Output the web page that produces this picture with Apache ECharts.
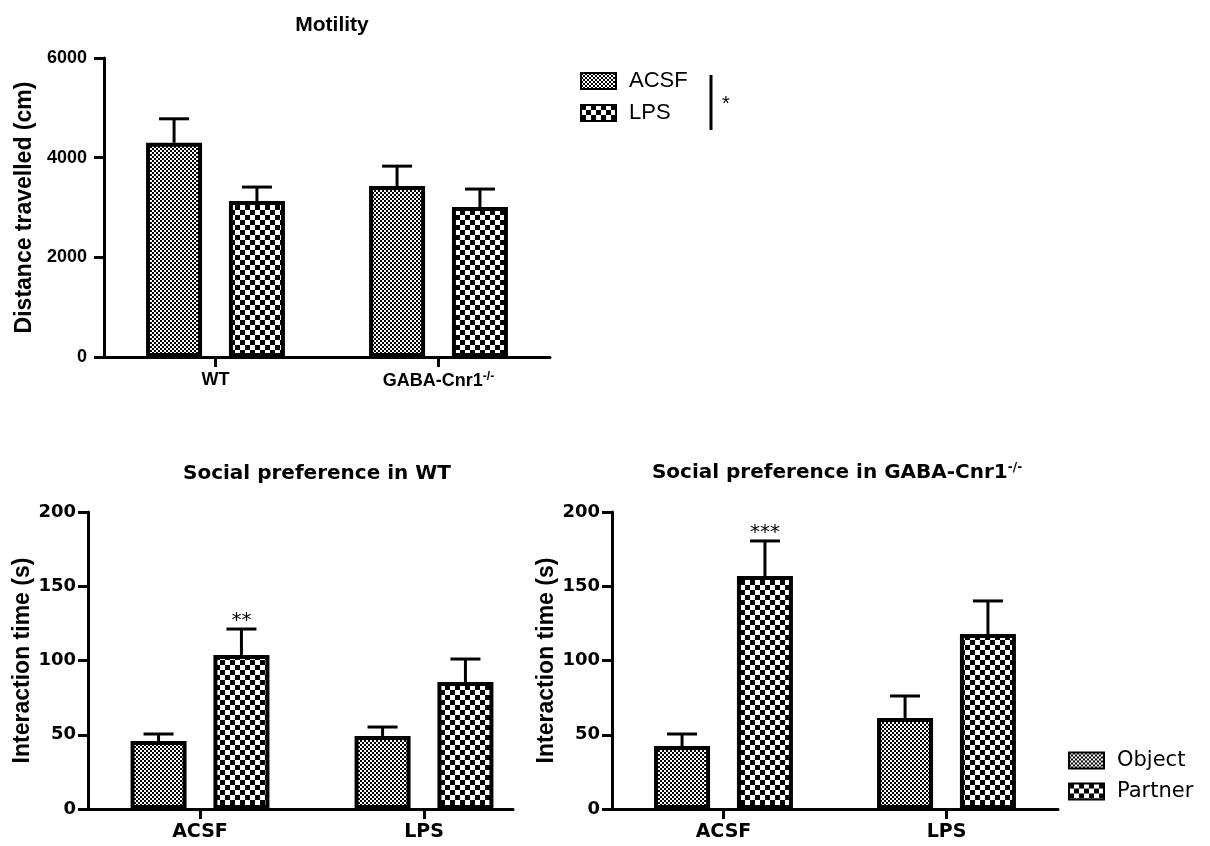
<!DOCTYPE html>
<html>
<head>
<meta charset="utf-8">
<script src="https://cdn.jsdelivr.net/npm/echarts@6/dist/echarts.min.js"></script>
<style>
html,body{margin:0;padding:0;background:#fff;}
#chart{width:1210px;height:846px;}
</style>
</head>
<body>
<div id="chart"></div>
<script>
// ---------- DATA ----------
const motilityCategories = ['WT', 'GABA-Cnr1'];
const motilityAcsfMean = [4300, 3430];
const motilityAcsfSem  = [480, 400];
const motilityLpsMean  = [3130, 3010];
const motilityLpsSem   = [280, 360];

const socialCategories = ['ACSF', 'LPS'];
const wtObjectMean   = [45.8, 49.2];
const wtObjectSem    = [4.7, 6.0];
const wtPartnerMean  = [103.7, 85.5];
const wtPartnerSem   = [17.5, 15.5];
const wtPartnerSig   = ['**', ''];

const koObjectMean   = [42.4, 61.3];
const koObjectSem    = [8.1, 14.8];
const koPartnerMean  = [156.9, 117.8];
const koPartnerSem   = [23.6, 22.3];
const koPartnerSig   = ['***', ''];

const motilityTicks = [0, 2000, 4000, 6000];
const socialTicks = [0, 50, 100, 150, 200];

// ---------- STYLE HELPERS ----------
function checker(cell) {
  const c = document.createElement('canvas');
  c.width = c.height = cell * 2;
  const g = c.getContext('2d');
  g.fillStyle = '#fff'; g.fillRect(0, 0, cell * 2, cell * 2);
  g.fillStyle = '#000';
  g.fillRect(0, 0, cell, cell);
  g.fillRect(cell, cell, cell, cell);
  return { image: c, repeat: 'repeat' };
}
const finePat = checker(2);
const coarsePat = checker(5);

const ARIAL = '"Liberation Sans", Arial, sans-serif';
const DEJA = '"DejaVu Sans", sans-serif';
const BAR_W = 56, GAP_RATIO = 0.48, BORDER = 4;
const BAR_GAP = (GAP_RATIO * 100) + '%';
const OFFSET = (BAR_W + BAR_W * GAP_RATIO) / 2;
const CAP = 15;

function errRender(offset, stars, starFont) {
  return function (params, api) {
    const i = api.value(0), v = api.value(1), s = api.value(2);
    const p0 = api.coord([i, v]);
    const p1 = api.coord([i, v + s]);
    const x = p0[0] + offset;
    const children = [
      { type: 'line', shape: { x1: x, y1: p0[1], x2: x, y2: p1[1] }, style: { stroke: '#000', lineWidth: 3 } },
      { type: 'line', shape: { x1: x - CAP, y1: p1[1], x2: x + CAP, y2: p1[1] }, style: { stroke: '#000', lineWidth: 3 } }
    ];
    if (stars && stars[i]) {
      children.push({ type: 'text', style: { text: stars[i], x: x, y: p1[1] + 2, align: 'center', verticalAlign: 'bottom', font: starFont, fill: '#000' } });
    }
    return { type: 'group', children: children };
  };
}
function errData(sem, mean) {
  return mean.map((m, i) => [i, m, sem[i]]);
}

function yAxisCfg(grid, ticks, name, gap, labelFont, margin) {
  return {
    type: 'value', gridIndex: grid, min: ticks[0], max: ticks[ticks.length - 1], interval: ticks[1] - ticks[0],
    name: name, nameLocation: 'middle', nameRotate: 90, nameGap: gap,
    nameTextStyle: { fontFamily: ARIAL, fontWeight: 'bold', fontSize: 23, color: '#000' },
    axisLine: { show: true, lineStyle: { color: '#000', width: 3 } },
    axisTick: { show: true, length: 10, lineStyle: { color: '#000', width: 3 } },
    axisLabel: { color: '#000', fontFamily: labelFont, fontWeight: 'bold', fontSize: 18, margin: margin,
      formatter: function (v) { return String(v); } },
    splitLine: { show: false }
  };
}
function xCatCfg(grid, cats, labelFont, size, showLine, rich) {
  return {
    type: 'category', gridIndex: grid, data: cats,
    axisLine: { show: showLine, lineStyle: { color: '#000', width: 3 } },
    axisTick: { show: true, alignWithLabel: true, length: 10, lineStyle: { color: '#000', width: 3 } },
    axisLabel: {
      interval: 0,
      color: '#000', fontFamily: labelFont, fontWeight: 'bold', fontSize: size, margin: 14,
      formatter: function (v) { return v === 'GABA-Cnr1' ? '{a|GABA-Cnr1}{s|-/-}' : v; },
      rich: rich
    },
    splitLine: { show: false }
  };
}
const topRich = {
  a: { fontFamily: ARIAL, fontWeight: 'bold', fontSize: 18, color: '#000' },
  s: { fontFamily: ARIAL, fontWeight: 'bold', fontSize: 12, color: '#000', verticalAlign: 'top', padding: [0, 0, 8, 0] }
};

function barSeries(name, data, pat, xi, yi) {
  return {
    type: 'bar', name: name, data: data, xAxisIndex: xi, yAxisIndex: yi,
    barWidth: BAR_W, barGap: BAR_GAP,
    itemStyle: { color: pat, borderColor: '#000', borderWidth: BORDER },
    emphasis: { disabled: true }, z: 2
  };
}
function errSeries(mean, sem, offset, xi, yi, stars, starFont) {
  return {
    type: 'custom', data: errData(sem, mean), xAxisIndex: xi, yAxisIndex: yi,
    renderItem: errRender(offset, stars, starFont), z: 3, silent: true
  };
}

const chart = echarts.init(document.getElementById('chart'), null, { renderer: 'canvas' });
chart.setOption({
  animation: false,
  backgroundColor: '#fff',
  title: [
    { text: 'Motility', left: 327, top: 10, textAlign: 'center',
      textStyle: { fontFamily: ARIAL, fontWeight: 'bold', fontSize: 21, color: '#000' } },
    { text: 'Social preference in WT', left: 312, top: 459, textAlign: 'center',
      textStyle: { fontFamily: DEJA, fontWeight: 'bold', fontSize: 20, color: '#000' } },
    { text: '{a|Social preference in GABA-Cnr1}{s|-/-}', left: 832, top: 457, textAlign: 'center',
      textStyle: { rich: {
        a: { fontFamily: DEJA, fontWeight: 'bold', fontSize: 20, color: '#000' },
        s: { fontFamily: DEJA, fontWeight: 'bold', fontSize: 12, color: '#000', verticalAlign: 'top', padding: [0, 0, 10, 0] }
      } } }
  ],
  legend: [
    { data: [{ name: 'ACSF', icon: 'rect' }, { name: 'LPS', icon: 'rect' }], orient: 'vertical', left: 580, top: 70,
      itemWidth: 35, itemHeight: 16, itemGap: 10, padding: 0, selectedMode: false,
      textStyle: { fontFamily: ARIAL, fontSize: 22, color: '#000', padding: [0, 0, 0, 8] } },
    { data: [{ name: 'Object', icon: 'rect' }, { name: 'Partner', icon: 'rect' }], orient: 'vertical', left: 1068, top: 750,
      itemWidth: 35, itemHeight: 16, itemGap: 10, padding: 0, selectedMode: false,
      textStyle: { fontFamily: DEJA, fontSize: 21, color: '#000', padding: [0, 0, 0, 8] } }
  ],
  grid: [
    { left: 104, top: 58, width: 446, height: 299 },
    { left: 88, top: 512, width: 448, height: 297 },
    { left: 88, top: 512, width: 425, height: 297 },
    { left: 612, top: 512, width: 446, height: 297 }
  ],
  xAxis: [
    xCatCfg(0, motilityCategories, ARIAL, 18, true, topRich),
    xCatCfg(1, socialCategories, DEJA, 19, false, {}),
    { type: 'value', gridIndex: 2, min: 0, max: 1, axisLine: { show: true, lineStyle: { color: '#000', width: 3 } },
      axisTick: { show: false }, axisLabel: { show: false }, splitLine: { show: false } },
    xCatCfg(3, socialCategories, DEJA, 19, true, {})
  ],
  yAxis: [
    yAxisCfg(0, motilityTicks, 'Distance travelled (cm)', 68, ARIAL, 17),
    yAxisCfg(1, socialTicks, 'Interaction time (s)', 53, DEJA, 12),
    { type: 'value', gridIndex: 2, show: false, min: 0, max: 1 },
    yAxisCfg(3, socialTicks, 'Interaction time (s)', 46, DEJA, 12)
  ],
  series: [
    barSeries('ACSF', motilityAcsfMean, finePat, 0, 0),
    barSeries('LPS', motilityLpsMean, coarsePat, 0, 0),
    errSeries(motilityAcsfMean, motilityAcsfSem, -OFFSET, 0, 0, null, ''),
    errSeries(motilityLpsMean, motilityLpsSem, OFFSET, 0, 0, null, ''),

    barSeries('Object', wtObjectMean, finePat, 1, 1),
    barSeries('Partner', wtPartnerMean, coarsePat, 1, 1),
    errSeries(wtObjectMean, wtObjectSem, -OFFSET, 1, 1, null, ''),
    errSeries(wtPartnerMean, wtPartnerSem, OFFSET, 1, 1, wtPartnerSig, '20px ' + DEJA),

    barSeries('Object', koObjectMean, finePat, 3, 3),
    barSeries('Partner', koPartnerMean, coarsePat, 3, 3),
    errSeries(koObjectMean, koObjectSem, -OFFSET, 3, 3, null, ''),
    errSeries(koPartnerMean, koPartnerSem, OFFSET, 3, 3, koPartnerSig, '20px ' + DEJA)
  ],
  graphic: [
    { type: 'line', shape: { x1: 711, y1: 75, x2: 711, y2: 130 }, style: { stroke: '#000', lineWidth: 3 } },
    { type: 'text', style: { text: '*', x: 722, y: 94, font: '20px ' + ARIAL, fill: '#000' } }
  ]
});
</script>
</body>
</html>
